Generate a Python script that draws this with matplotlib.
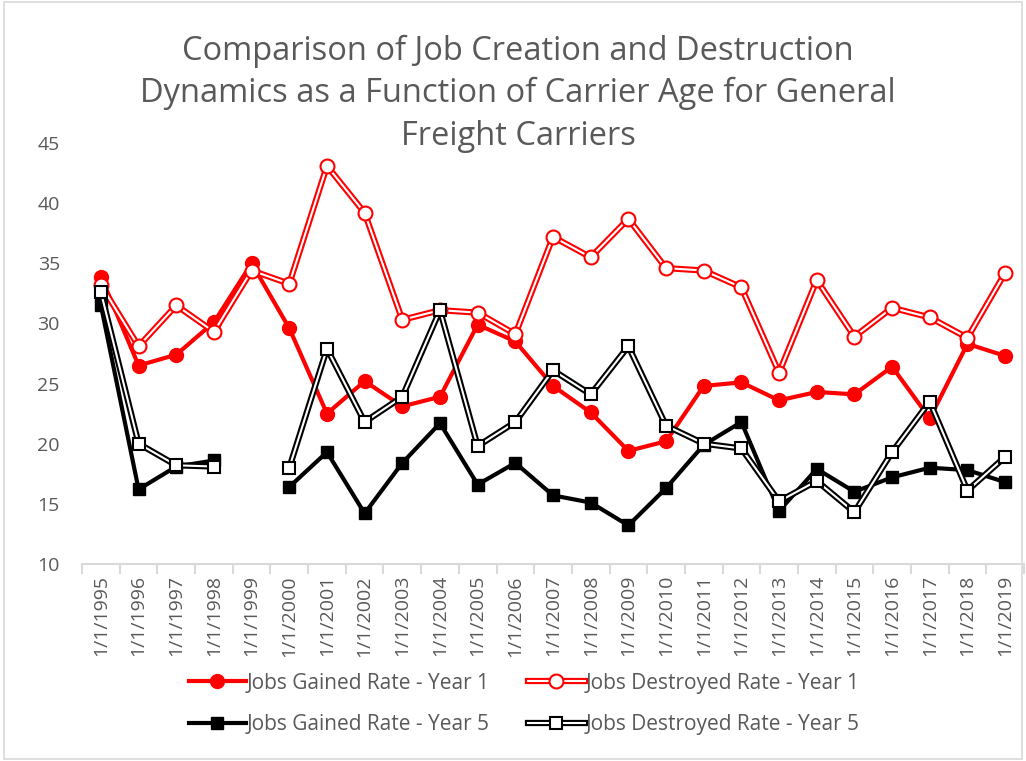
import numpy as np
import matplotlib
matplotlib.use("Agg")
from matplotlib import pyplot as plt
from matplotlib.lines import Line2D
from matplotlib.legend_handler import HandlerTuple
from matplotlib.patches import Rectangle

plt.rcParams['font.family'] = ['Open Sans', 'DejaVu Sans']

years = list(range(1995, 2020))
labels = ["1/1/%d" % y for y in years]

gained_y1 = [33.9, 26.5, 27.4, 30.1, 35.0, 29.6, 22.5, 25.2, 23.1, 23.9, 29.9, 28.5, 24.8,
             22.6, 19.4, 20.2, 24.8, 25.1, 23.6, 24.3, 24.1, 26.4, 22.1, 28.3, 27.3]
destroyed_y1 = [33.2, 28.1, 31.5, 29.3, 34.4, 33.3, 43.1, 39.2, 30.3, 31.1, 30.9, 29.1, 37.2,
                35.5, 38.7, 34.6, 34.4, 33.0, 25.9, 33.6, 28.9, 31.3, 30.5, 28.8, 34.2]
gained_y5 = [31.5, 16.2, 18.1, 18.6, np.nan, 16.4, 19.3, 14.2, 18.4, 21.7, 16.6, 18.4, 15.7,
             15.1, 13.2, 16.3, 19.9, 21.8, 14.4, 17.9, 16.0, 17.2, 18.0, 17.8, 16.8]
destroyed_y5 = [32.6, 20.0, 18.2, 18.1, np.nan, 18.0, 27.9, 21.8, 23.9, 31.1, 19.8, 21.8, 26.1,
                24.1, 28.1, 21.5, 20.0, 19.6, 15.2, 16.9, 14.3, 19.3, 23.5, 16.1, 18.9]

gray = '#595959'
x = np.arange(len(years))

fig = plt.figure(figsize=(10.26, 7.61), dpi=100)
ax = fig.add_axes([0.080, 0.259, 0.918, 0.553])

# gained series: plain thick lines with filled markers
ax.plot(x, gained_y1, color='red', lw=3, marker='o', ms=10, mfc='red', mec='red')

# destroyed series: double line (coloured outer, white inner) with open markers
ax.plot(x, destroyed_y1, color='red', lw=4.5, solid_capstyle='butt')
ax.plot(x, destroyed_y1, color='white', lw=1.5, marker='o', ms=10, mfc='white', mec='red', mew=1.5)

ax.plot(x, gained_y5, color='black', lw=3, marker='s', ms=9, mfc='black', mec='black')

ax.plot(x, destroyed_y5, color='black', lw=4.5, solid_capstyle='butt')
ax.plot(x, destroyed_y5, color='white', lw=1.5, marker='s', ms=9, mfc='white', mec='black', mew=1.5)

ax.set_xlim(-0.5, len(years) - 0.5)
ax.set_ylim(10, 45)
ax.set_yticks(range(10, 46, 5))
ax.set_xticks(x)
ax.set_xticklabels(labels, rotation=90)
ax.set_xticks(np.arange(-0.5, len(years), 1), minor=True)
ax.tick_params(axis='x', which='major', length=0, labelsize=14, labelcolor=gray, pad=8)
ax.tick_params(axis='x', which='minor', length=7, color='#d9d9d9', width=1.5)
ax.tick_params(axis='y', length=0, labelsize=14, labelcolor=gray, pad=16)

for s in ['top', 'right', 'left']:
    ax.spines[s].set_visible(False)
ax.spines['bottom'].set_color('#d9d9d9')
ax.spines['bottom'].set_linewidth(1.5)

fig.text(0.505, 0.877, "Comparison of Job Creation and Destruction\n"
         "Dynamics as a Function of Carrier Age for General\nFreight Carriers",
         ha='center', va='center', fontsize=23.5, color=gray, linespacing=1.38)

# legend handles
h_g1 = Line2D([], [], color='red', lw=3, marker='o', ms=10, mfc='red', mec='red')
h_d1 = (Line2D([], [], color='red', lw=4.5),
        Line2D([], [], color='white', lw=1.5, marker='o', ms=10, mfc='white', mec='red', mew=1.5))
h_g5 = Line2D([], [], color='black', lw=3, marker='s', ms=9, mfc='black', mec='black')
h_d5 = (Line2D([], [], color='black', lw=4.5),
        Line2D([], [], color='white', lw=1.5, marker='s', ms=9, mfc='white', mec='black', mew=1.5))

leg = fig.legend([h_g1, h_g5, h_d1, h_d5],
                 ["Jobs Gained Rate - Year 1", "Jobs Gained Rate - Year 5",
                  "Jobs Destroyed Rate - Year 1", "Jobs Destroyed Rate - Year 5"],
                 ncol=2, loc='center', bbox_to_anchor=(0.511, 0.075), frameon=False,
                 fontsize=15, labelcolor=gray, handlelength=2.75, handletextpad=0.05,
                 columnspacing=1.8, labelspacing=1.0,
                 handler_map={tuple: HandlerTuple(ndivide=1, pad=0)})

fig.patches.append(Rectangle((0.004, 0.003), 0.992, 0.994, transform=fig.transFigure,
                             fill=False, edgecolor='#d9d9d9', lw=1.2))

fig.savefig("out.png", dpi=100)
